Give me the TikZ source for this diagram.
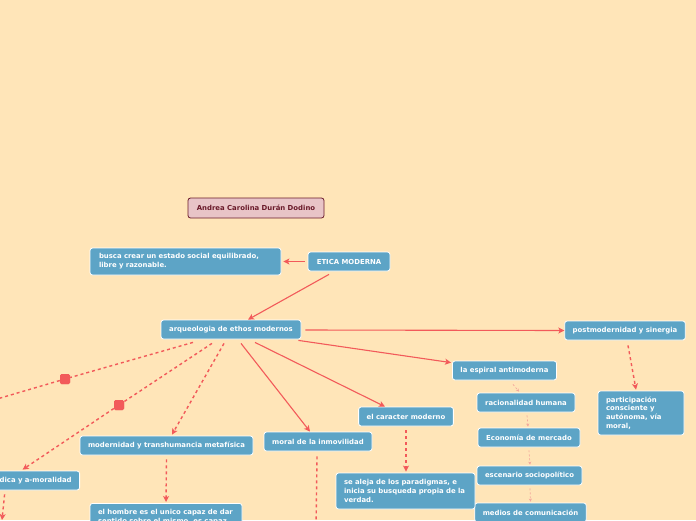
\documentclass[tikz,border=0pt]{standalone}
\usepackage{fontspec}
\usetikzlibrary{arrows.meta,calc}
\newfontfamily\nf{DejaVu Sans}
\definecolor{bg}{HTML}{FFE5B8}
\definecolor{nblue}{HTML}{5DA4C6}
\definecolor{lred}{HTML}{F25A5A}
\definecolor{faint}{HTML}{F3A69C}
\definecolor{pinkfill}{HTML}{E8C4C7}
\definecolor{maroon}{HTML}{6A1A2A}
\tikzset{
  box/.style={fill=nblue, draw=white, line width=0.8pt, rounded corners=2.5pt,
    text=white, font=\nf\bfseries\fontsize{6.9}{8.8}\selectfont,
    minimum height=19pt, inner xsep=8pt, inner ysep=3pt},
  mbox/.style={box, align=left},
  title/.style={fill=pinkfill, draw=maroon, line width=0.8pt, rounded corners=2.5pt,
    text=maroon, font=\nf\bfseries\fontsize{6.9}{8.8}\selectfont,
    minimum height=20pt, minimum width=136pt},
  solidarrow/.style={draw=lred, line width=1.1pt, -{Stealth[length=6pt,width=6pt,inset=1.5pt]}},
  dasharrow/.style={draw=lred, line width=1.4pt, dash pattern=on 3pt off 3pt, -{Stealth[length=6pt,width=6pt,inset=1.5pt]}},
  dashline/.style={draw=lred, line width=1.4pt, dash pattern=on 3pt off 3pt},
  faintarrow/.style={draw=faint, line width=0.7pt, dash pattern=on 2pt off 2pt, -{Stealth[length=3pt,width=3pt]}},
  sq/.style={fill=lred, draw=none, rounded corners=1.5pt, minimum size=10pt, inner sep=0pt}
}
\begin{document}
\begin{tikzpicture}[x=1pt,y=-1pt]
\useasboundingbox (0,0) rectangle (696,520);
\fill[bg] (0,0) rectangle (696,520);
\begin{scope}
\clip (0,0) rectangle (696,520);
% nodes
\node[title] (andrea) at (256,208) {Andrea Carolina Durán Dodino};
\node[box, minimum width=82pt] (etica) at (349,261.5) {ETICA MODERNA};
\node[mbox, text width=173pt, minimum height=27pt, inner xsep=9pt] (busca) at (185.5,261.5) {busca crear un estado social equilibrado,\\libre y razonable.};
\node[box, minimum width=140pt] (arq) at (231,329.5) {arqueologia de ethos modernos};
\node[box, minimum width=120pt] (post) at (625,330.5) {postmodernidad y sinergia};
\node[box, minimum width=103pt] (espiral) at (504.5,370.5) {la espiral antimoderna};
\node[box, minimum width=94pt] (caracter) at (406,416.5) {el caracter moderno};
\node[box, minimum width=108pt] (moral) at (318,441.5) {moral de la inmovilidad};
\node[box, minimum width=173pt] (modern) at (166.5,445.5) {modernidad y transhumancia metafísica};
\node[box, anchor=east, align=right, text width=84pt, minimum width=100pt] (dica) at (80,480.5) {dica y a-moralidad};
\node[mbox, text width=70pt, minimum height=44pt] (partic) at (641,413) {participación\\consciente y\\autónoma, vía\\moral,};
\node[box, minimum width=98pt] (racional) at (526,402.5) {racionalidad humana};
\node[box, minimum width=102pt] (econ) at (529,437.5) {Economía de mercado};
\node[box, minimum width=105pt] (escen) at (529.5,475.5) {escenario sociopolítico};
\node[box, minimum width=111pt] (medios) at (530.5,512.5) {medios de comunicación};
\node[mbox, text width=123pt, minimum height=36pt] (aleja) at (405.5,491) {se aleja de los paradigmas, e\\inicia su busqueda propia de la\\verdad.};
\node[mbox, text width=136pt, minimum height=27pt, anchor=north] (hombre) at (166,503) {el hombre es el unico capaz de dar\\sentido sobre el mismo, es capaz};
% free ends
\coordinate (offl) at (-20,404);
\coordinate (moraldown) at (316,530);
\coordinate (dicadown) at (2,520);
% squares
\node[sq] (sq1) at (65,379) {};
\node[sq] (sq2) at (119,405) {};
% connectors
\draw[solidarrow] ($(etica.west)+(-3,0)$) -- ($(busca.east)+(2,0)$);
\draw[solidarrow] ($(etica.south)+(-20,3)$) -- ($(arq.north)+(17,0)$);
\draw[solidarrow] ($(arq.east)+(4,0.5)$) -- (post.west);
\draw[solidarrow] ($(arq.south east)+(-3,1)$) -- ($(espiral.north west)+(-1,2)$);
\draw[solidarrow] ($(arq.south)+(24,3)$) -- ($(caracter.north)+(-21,0)$);
\draw[solidarrow] ($(arq.south)+(10,4)$) -- ($(moral.north)+(-8,0)$);
\draw[dasharrow] ($(arq.south)+(-7,4)$) -- ($(modern.north)+(5.5,-1)$);
\draw[dashline] ($(arq.south)+(-19,4)$) -- (sq2);
\draw[dasharrow] (sq2) -- ($(dica.north)+(-7,-1)$);
\draw[dashline] ($(arq.south)+(-38,3)$) -- (sq1) -- (offl);
\draw[dasharrow] ($(post.south)+(3,5)$) -- ($(partic.north)+(-5,-1)$);
\draw[dasharrow] ($(modern.south)+(0,4)$) -- ($(hombre.north)+(0,-1)$);
\draw[dasharrow] ($(caracter.south)+(0,4)$) -- ($(aleja.north)+(0.5,-1)$);
\draw[dashline] ($(moral.south)+(-1,5)$) -- (moraldown);
\draw[dasharrow] ($(dica.south)+(-25,4)$) -- (dicadown);
\draw[faintarrow] ($(espiral.south)+(8.5,4)$) -- ($(racional.north)+(-7,-1)$);
\draw[faintarrow] ($(racional.south)+(1,3)$) -- ($(econ.north)+(-1,-1)$);
\draw[faintarrow] ($(econ.south)+(0,3)$) -- ($(escen.north)+(0.5,-1)$);
\draw[faintarrow] ($(escen.south)+(0.5,3)$) -- ($(medios.north)+(0,-1)$);
\node[sq] at (sq1) {};
\node[sq] at (sq2) {};
\end{scope}
\end{tikzpicture}
\end{document}
